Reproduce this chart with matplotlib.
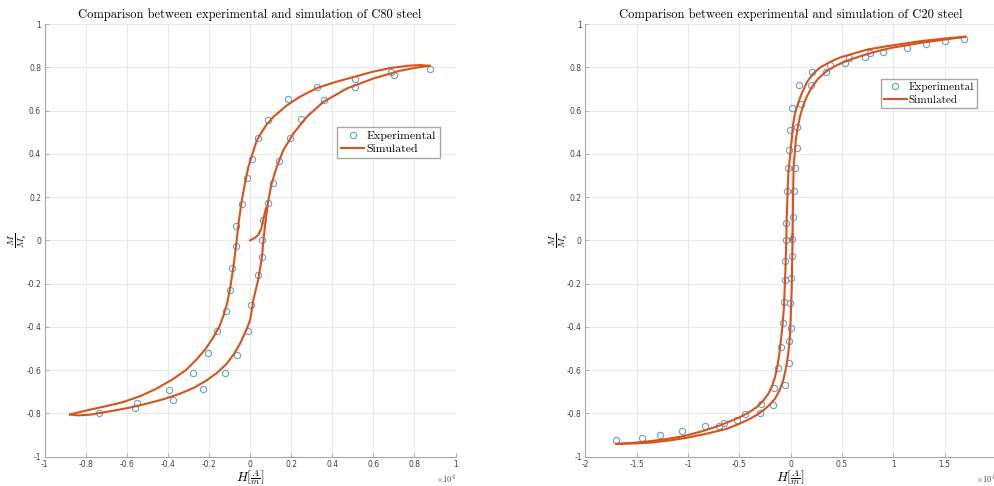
import matplotlib
matplotlib.use('Agg')
import matplotlib.pyplot as plt

plt.rcParams['axes.unicode_minus'] = False
plt.rcParams['mathtext.fontset'] = 'cm'

# ---- C80 steel (H in units of 1e4 A/m, M/Ms) ----
c80_exp_h = [0.876, 0.685, 0.701, 0.511, 0.511, 0.328, 0.359, 0.187, 0.250, 0.086,
             0.193, 0.041, 0.140, 0.011, 0.112, -0.013, 0.088, -0.037, 0.063, -0.067,
             0.058, -0.070, 0.057, -0.086, 0.039, -0.097, 0.006, -0.117, -0.161, -0.011,
             -0.204, -0.063, -0.277, -0.122, -0.393, -0.230, -0.373, -0.550, -0.562, -0.737]
c80_exp_m = [0.792, 0.776, 0.762, 0.747, 0.711, 0.707, 0.647, 0.653, 0.563, 0.556,
             0.472, 0.475, 0.369, 0.375, 0.267, 0.290, 0.171, 0.167, 0.093, 0.068,
             0.000, -0.026, -0.077, -0.128, -0.162, -0.228, -0.301, -0.326, -0.421, -0.420,
             -0.520, -0.529, -0.614, -0.613, -0.694, -0.687, -0.738, -0.752, -0.773, -0.796]

c80_init_h = [0.0, 0.024, 0.040, 0.055, 0.065, 0.078]
c80_init_m = [0.0, 0.012, 0.025, 0.055, 0.100, 0.150]

c80_down_h = [0.873, 0.830, 0.780, 0.685, 0.600, 0.511, 0.420, 0.328, 0.243, 0.178,
              0.114, 0.080, 0.050, 0.032, 0.012, -0.008, -0.025, -0.040, -0.054, -0.065,
              -0.081, -0.095, -0.110, -0.128, -0.150, -0.180, -0.215, -0.260, -0.310, -0.373,
              -0.450, -0.536, -0.620, -0.698, -0.790, -0.876]
c80_down_m = [0.807, 0.810, 0.808, 0.797, 0.780, 0.757, 0.733, 0.705, 0.664, 0.623,
              0.571, 0.535, 0.490, 0.460, 0.400, 0.340, 0.262, 0.185, 0.093, 0.000,
              -0.123, -0.210, -0.285, -0.345, -0.400, -0.450, -0.500, -0.550, -0.598, -0.640,
              -0.683, -0.721, -0.748, -0.766, -0.785, -0.805]

c80_up_h = [-0.876, -0.840, -0.780, -0.698, -0.600, -0.503, -0.420, -0.341, -0.270, -0.211,
            -0.160, -0.113, -0.078, -0.049, -0.022, 0.000, 0.008, 0.016, 0.040, 0.058,
            0.065, 0.076, 0.089, 0.105, 0.130, 0.162, 0.211, 0.276, 0.357, 0.471,
            0.600, 0.730, 0.800, 0.873]
c80_up_m = [-0.805, -0.809, -0.806, -0.793, -0.776, -0.755, -0.734, -0.709, -0.680, -0.647,
            -0.612, -0.570, -0.525, -0.478, -0.423, -0.370, -0.325, -0.277, -0.180, -0.077,
            0.000, 0.093, 0.185, 0.262, 0.340, 0.417, 0.494, 0.571, 0.640, 0.702,
            0.748, 0.784, 0.797, 0.807]

# ---- C20 steel ----
c20_exp_h = [1.693, 1.502, 1.314, 1.129, 0.896, 0.777, 0.722, 0.570, 0.531, 0.382,
             0.343, 0.210, 0.194, 0.081, 0.104, 0.016, 0.065, -0.010, 0.058, -0.016,
             0.045, -0.026, 0.036, -0.036, 0.023, -0.045, -0.049, 0.016, 0.013, -0.052,
             0.000, -0.052, -0.003, -0.065, 0.006, -0.074, -0.013, -0.094, -0.019, -0.123,
             -0.058, -0.159, -0.168, -0.288, -0.294, -0.446, -0.521, -0.650, -0.702, -0.835,
             -1.061, -1.275, -1.450, -1.696]
c20_exp_m = [0.929, 0.920, 0.907, 0.890, 0.869, 0.864, 0.846, 0.843, 0.818, 0.809,
             0.778, 0.778, 0.719, 0.716, 0.628, 0.611, 0.522, 0.512, 0.427, 0.417,
             0.335, 0.333, 0.228, 0.230, 0.106, 0.080, 0.000, 0.008, -0.074, -0.096,
             -0.174, -0.182, -0.290, -0.287, -0.403, -0.381, -0.466, -0.492, -0.565, -0.591,
             -0.667, -0.681, -0.759, -0.758, -0.799, -0.804, -0.830, -0.846, -0.858, -0.860,
             -0.881, -0.900, -0.915, -0.924]

c20_init_h = [0.0, 0.010, 0.019]
c20_init_m = [0.0, 0.010, 0.030]

c20_down_h = [1.700, 1.500, 1.255, 0.932, 0.750, 0.608, 0.480, 0.382, 0.290, 0.220,
              0.160, 0.107, 0.070, 0.042, 0.022, 0.010, -0.008, -0.023, -0.032, -0.039,
              -0.042, -0.052, -0.065, -0.080, -0.097, -0.110, -0.128, -0.152, -0.180, -0.217,
              -0.270, -0.330, -0.410, -0.492, -0.686, -0.860, -1.042, -1.200, -1.366, -1.530,
              -1.700]
c20_down_m = [0.941, 0.933, 0.920, 0.897, 0.882, 0.863, 0.845, 0.824, 0.800, 0.771,
              0.732, 0.678, 0.630, 0.586, 0.530, 0.462, 0.380, 0.309, 0.185, 0.093,
              0.000, -0.154, -0.309, -0.400, -0.470, -0.524, -0.580, -0.632, -0.672, -0.709,
              -0.743, -0.771, -0.796, -0.817, -0.855, -0.882, -0.905, -0.918, -0.928, -0.936,
              -0.941]

c20_up_h = [-1.700, -1.530, -1.366, -1.200, -1.042, -0.830, -0.621, -0.520, -0.427, -0.340,
            -0.266, -0.205, -0.152, -0.108, -0.072, -0.045, -0.023, -0.008, 0.000, 0.010,
            0.016, 0.019, 0.023, 0.029, 0.050, 0.068, 0.090, 0.120, 0.155, 0.205,
            0.268, 0.350, 0.447, 0.570, 0.705, 0.850, 0.996, 1.255, 1.500, 1.700]
c20_up_m = [-0.941, -0.939, -0.935, -0.926, -0.915, -0.895, -0.871, -0.852, -0.832, -0.810,
            -0.786, -0.760, -0.732, -0.693, -0.647, -0.590, -0.524, -0.450, -0.370, -0.231,
            -0.077, 0.000, 0.185, 0.340, 0.462, 0.520, 0.570, 0.620, 0.662, 0.708,
            0.747, 0.782, 0.809, 0.834, 0.855, 0.875, 0.891, 0.912, 0.928, 0.941]

LINE_COLOR = '#D95319'
MARK_COLOR = '#5EA3D3'
SERIF = 'cmr10'


def style_axes(ax, xticks, xlabels, title):
    ax.set_ylim(-1, 1)
    ax.set_xticks(xticks)
    ax.set_xticklabels(xlabels)
    yt = [-1, -0.8, -0.6, -0.4, -0.2, 0, 0.2, 0.4, 0.6, 0.8, 1]
    ax.set_yticks(yt)
    ax.set_yticklabels(['-1', '-0.8', '-0.6', '-0.4', '-0.2', '0', '0.2', '0.4', '0.6', '0.8', '1'])
    ax.grid(True, color='#e6e6e6', linewidth=0.6)
    ax.set_axisbelow(True)
    for s in ['top', 'right']:
        ax.spines[s].set_visible(False)
    for s in ['left', 'bottom']:
        ax.spines[s].set_color('#a6a6a6')
        ax.spines[s].set_linewidth(0.8)
    ax.tick_params(direction='in', length=3, width=0.6, color='#a6a6a6',
                   labelsize=5.5, labelcolor='#404040', pad=2.5)
    ax.set_title(title, fontfamily=SERIF, fontsize=9, pad=4)
    ax.set_xlabel(r'$H\left[\frac{A}{m}\right]$', fontsize=9.5, labelpad=-0.5)
    ax.set_ylabel(r'$\frac{M}{M_s}$', fontsize=10, labelpad=-2)
    ax.text(1.0, -0.05, r'$\times10^4$', transform=ax.transAxes, fontsize=6,
            color='#404040', ha='right', va='center')


def add_legend(ax, anchor, size):
    ax.legend(loc='upper left', bbox_to_anchor=anchor, prop={'family': SERIF, 'size': size},
              fancybox=False, edgecolor='#a6a6a6', framealpha=1, borderpad=0.3,
              handlelength=2.0, handletextpad=0.2, labelspacing=0.25, borderaxespad=0)


fig = plt.figure(figsize=(9.94, 4.86), dpi=100)

ax1 = fig.add_axes([0.0448, 0.0603, 0.4135, 0.8903])
ax1.plot(c80_exp_h, c80_exp_m, 'o', mfc='none', mec=MARK_COLOR, ms=4.5, mew=0.8,
         label='Experimental')
ax1.plot(c80_init_h, c80_init_m, color=LINE_COLOR, lw=1.5, label='Simulated')
ax1.plot(c80_down_h, c80_down_m, color=LINE_COLOR, lw=1.5)
ax1.plot(c80_up_h, c80_up_m, color=LINE_COLOR, lw=1.5)
ax1.set_xlim(-1, 1)
style_axes(ax1, [-1, -0.8, -0.6, -0.4, -0.2, 0, 0.2, 0.4, 0.6, 0.8, 1],
           ['-1', '-0.8', '-0.6', '-0.4', '-0.2', '0', '0.2', '0.4', '0.6', '0.8', '1'],
           'Comparison between experimental and simulation of C80 steel')
add_legend(ax1, (0.712, 0.762), 8.5)

ax2 = fig.add_axes([0.5888, 0.0603, 0.4132, 0.8903])
ax2.plot(c20_exp_h, c20_exp_m, 'o', mfc='none', mec=MARK_COLOR, ms=4.5, mew=0.8,
         label='Experimental')
ax2.plot(c20_init_h, c20_init_m, color=LINE_COLOR, lw=1.5, label='Simulated')
ax2.plot(c20_down_h, c20_down_m, color=LINE_COLOR, lw=1.5)
ax2.plot(c20_up_h, c20_up_m, color=LINE_COLOR, lw=1.5)
ax2.set_xlim(-2, 2)
style_axes(ax2, [-2, -1.5, -1, -0.5, 0, 0.5, 1, 1.5, 2],
           ['-2', '-1.5', '-1', '-0.5', '0', '0.5', '1', '1.5', '2'],
           'Comparison between experimental and simulation of C20 steel')
add_legend(ax2, (0.72, 0.873), 8)

fig.savefig('out.png', dpi=100)
